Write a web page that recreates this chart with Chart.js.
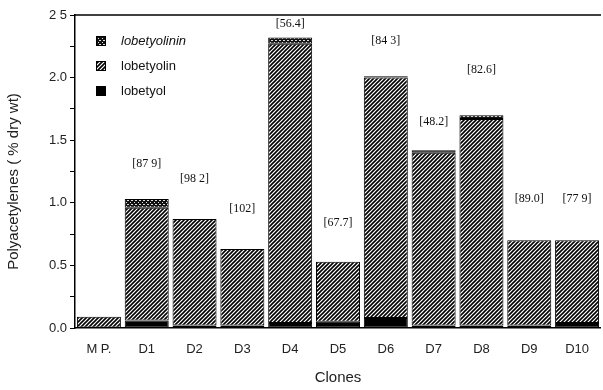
<!DOCTYPE html>
<html>
<head>
<meta charset="utf-8">
<script src="https://cdn.jsdelivr.net/npm/chart.js@4.4.1/dist/chart.umd.min.js"></script>
<style>
  html, body { margin: 0; padding: 0; background: #fff; }
  #wrap { width: 603px; height: 390px; }
</style>
</head>
<body>
<div id="wrap"><canvas id="c" width="603" height="390"></canvas></div>
<script>
// ---- data ----
const categories = ["M P.", "D1", "D2", "D3", "D4", "D5", "D6", "D7", "D8", "D9", "D10"];
const lobetyol     = [0.00, 0.06, 0.02, 0.02, 0.04, 0.05, 0.08, 0.02, 0.02, 0.02, 0.04];
const lobetyolin   = [0.09, 0.90, 0.85, 0.61, 2.23, 0.48, 1.92, 1.38, 1.65, 0.68, 0.66];
const lobetyolinin = [0.00, 0.07, 0.00, 0.00, 0.05, 0.00, 0.01, 0.02, 0.03, 0.00, 0.00];
const annotations  = ["", "[87 9]", "[98 2]", "[102]", "[56.4]", "[67.7]", "[84 3]", "[48.2]", "[82.6]", "[89.0]", "[77 9]"];
const annotationY  = [null, 1.31, 1.19, 0.95, 2.43, 0.84, 2.29, 1.65, 2.06, 1.03, 1.03];
const yTickLabels  = { "0": "0.0", "0.5": "0.5", "1": "1.0", "1.5": "1.5", "2": "2.0", "2.5": "2 5" };
const yTitle = 'Polyacetylenes ( % dry wt)';

// ---- patterns ----
function hatchPattern() {
  const c = document.createElement('canvas');
  c.width = 4; c.height = 4;
  const g = c.getContext('2d');
  g.fillStyle = '#fff'; g.fillRect(0, 0, 4, 4);
  g.strokeStyle = '#000'; g.lineWidth = 1.6;
  g.beginPath();
  g.moveTo(-1, 5); g.lineTo(5, -1);
  g.moveTo(-3, 3); g.lineTo(3, -3);
  g.moveTo(1, 7); g.lineTo(7, 1);
  g.stroke();
  return g.createPattern(c, 'repeat');
}
function stipplePattern() {
  const c = document.createElement('canvas');
  c.width = 4; c.height = 4;
  const g = c.getContext('2d');
  g.fillStyle = '#111'; g.fillRect(0, 0, 4, 4);
  g.fillStyle = '#ddd';
  g.fillRect(0, 0, 1, 1); g.fillRect(2, 2, 1, 1); g.fillRect(3, 0, 1, 1);
  return g.createPattern(c, 'repeat');
}
const ctx = document.getElementById('c').getContext('2d');
const hatch = hatchPattern();
const stipple = stipplePattern();

// ---- plugins ----
const framePlugin = {
  id: 'frame',
  afterDraw(chart) {
    const { ctx, chartArea } = chart;
    ctx.save();
    ctx.strokeStyle = '#000';
    ctx.lineWidth = 1.5;
    ctx.beginPath();
    ctx.moveTo(chartArea.left, chartArea.top);
    ctx.lineTo(chartArea.right, chartArea.top);
    ctx.stroke();
    // y axis title
    ctx.fillStyle = '#222';
    ctx.font = '15px "Liberation Sans", Arial, sans-serif';
    ctx.textAlign = 'center';
    ctx.textBaseline = 'middle';
    ctx.translate(14, (chartArea.top + chartArea.bottom) / 2 + 10);
    ctx.rotate(-Math.PI / 2);
    ctx.fillText(yTitle, 0, 0);
    ctx.restore();
  }
};

const annotationPlugin = {
  id: 'annots',
  afterDatasetsDraw(chart) {
    const { ctx, scales } = chart;
    ctx.save();
    ctx.fillStyle = '#111';
    ctx.font = '12px "Liberation Serif", "Times New Roman", serif';
    ctx.textAlign = 'center';
    ctx.textBaseline = 'middle';
    annotations.forEach((t, i) => {
      if (!t || annotationY[i] == null) return;
      ctx.fillText(t, scales.x.getPixelForValue(i), scales.y.getPixelForValue(annotationY[i]));
    });
    ctx.restore();
  }
};

const legendPlugin = {
  id: 'inlegend',
  afterDraw(chart) {
    const { ctx, chartArea } = chart;
    const ds = chart.data.datasets.slice().reverse();
    ctx.save();
    ctx.textBaseline = 'middle';
    ds.forEach((d, k) => {
      const y = chartArea.top + 26 + k * 25;
      const x = chartArea.left + 21;
      ctx.fillStyle = d.backgroundColor;
      ctx.fillRect(x, y - 5, 10, 10);
      ctx.strokeStyle = '#000';
      ctx.lineWidth = 1;
      ctx.strokeRect(x + 0.5, y - 4.5, 9, 9);
      ctx.fillStyle = '#111';
      ctx.font = (d.italic ? 'italic ' : '') + '13px "Liberation Sans", Arial, sans-serif';
      ctx.fillText(d.label, x + 25, y);
    });
    ctx.restore();
  }
};

new Chart(ctx, {
  type: 'bar',
  data: {
    labels: categories,
    datasets: [
      { label: 'lobetyol', data: lobetyol, backgroundColor: '#000', borderColor: '#000', borderWidth: 1, borderSkipped: false },
      { label: 'lobetyolin', data: lobetyolin, backgroundColor: hatch, borderColor: '#000', borderWidth: 1, borderSkipped: false },
      { label: 'lobetyolinin', italic: true, data: lobetyolinin, backgroundColor: stipple, borderColor: '#000', borderWidth: 1, borderSkipped: false }
    ]
  },
  options: {
    responsive: false,
    animation: false,
    devicePixelRatio: 1,
    layout: { padding: { top: 15, right: 0, left: 0, bottom: 0 } },
    datasets: { bar: { barPercentage: 0.92, categoryPercentage: 1.0 } },
    plugins: {
      legend: { display: false },
      tooltip: { enabled: false }
    },
    scales: {
      x: {
        stacked: true,
        grid: { display: false, drawTicks: false },
        border: { display: true, color: '#000', width: 1.5 },
        ticks: { color: '#222', font: { family: '"Liberation Sans", Arial, sans-serif', size: 13 }, padding: 14, maxRotation: 0 },
        title: { display: true, text: 'Clones', color: '#222', font: { family: '"Liberation Sans", Arial, sans-serif', size: 15 }, padding: { top: 4, bottom: 3 } },
        afterFit(s) { s.height = 62; }
      },
      y: {
        stacked: true,
        min: 0, max: 2.5,
        ticks: {
          stepSize: 0.25,
          autoSkip: false,
          color: '#222',
          font: { family: '"Liberation Sans", Arial, sans-serif', size: 13 },
          padding: 3,
          callback(v) { const k = String(Math.round(v * 100) / 100); return yTickLabels[k] !== undefined ? yTickLabels[k] : ''; }
        },
        grid: { drawOnChartArea: false, drawTicks: true, tickLength: 5, color: '#000', lineWidth: 1 },
        border: { display: true, color: '#000', width: 1.5 },
        title: { display: false },
        afterFit(s) { s.width = 75; }
      }
    }
  },
  plugins: [framePlugin, annotationPlugin, legendPlugin]
});
</script>
</body>
</html>
